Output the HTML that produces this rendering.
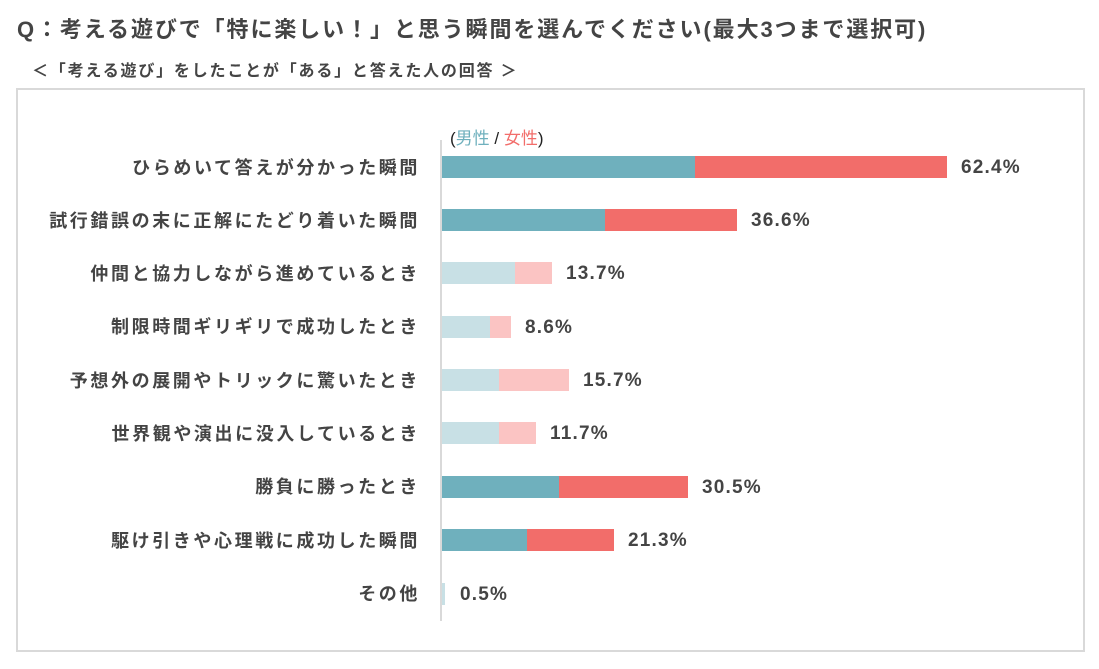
<!DOCTYPE html>
<html><head><meta charset="utf-8"><style>
body{margin:0;width:1099px;height:669px;background:#fff;font-family:"Liberation Sans","Noto Sans CJK JP",sans-serif;color:#444;position:relative;overflow:hidden}
.t{position:absolute;left:17px;top:12px;font-size:22px;font-weight:bold;white-space:nowrap;letter-spacing:1.9px}
.s{position:absolute;left:32px;top:57px;font-size:16px;font-weight:bold;white-space:nowrap;letter-spacing:1.8px}
.box{position:absolute;left:16px;top:88px;width:1065px;height:560px;border:2px solid #d9d9d9}
.ax{position:absolute;left:440px;top:140px;width:2px;height:481px;background:#d9d9d9}
.lg{position:absolute;left:450px;top:124px;font-size:17px;color:#222}
.lb{position:absolute;right:679px;font-size:18px;font-weight:bold;white-space:nowrap;letter-spacing:2.6px;transform:translateY(-50%)}
.b{position:absolute;height:22px}
.v{position:absolute;font-size:19px;font-weight:bold;letter-spacing:1.2px;transform:translateY(-50%)}
</style></head><body>
<div class="t">Q：考える遊びで「特に楽しい！」と思う瞬間を選んでください(最大3つまで選択可)</div>
<div class="s">＜「考える遊び」をしたことが「ある」と答えた人の回答 ＞</div>
<div class="box"></div>
<div class="ax"></div>
<div class="lg">(<span style="color:#6fb0bd">男性</span> / <span style="color:#f26d6a">女性</span>)</div>
<div class="lb" style="top:167px">ひらめいて答えが分かった瞬間</div>
<div class="b" style="top:156px;left:442px;width:253px;background:#6fb0bd"></div><div class="b" style="top:156px;left:695px;width:252px;background:#f26d6a"></div><div class="v" style="top:168px;left:961px">62.4%</div>
<div class="lb" style="top:220px">試行錯誤の末に正解にたどり着いた瞬間</div>
<div class="b" style="top:209px;left:442px;width:163px;background:#6fb0bd"></div><div class="b" style="top:209px;left:605px;width:132px;background:#f26d6a"></div><div class="v" style="top:221px;left:751px">36.6%</div>
<div class="lb" style="top:273px">仲間と協力しながら進めているとき</div>
<div class="b" style="top:262px;left:442px;width:73px;background:#c8e0e5"></div><div class="b" style="top:262px;left:515px;width:37px;background:#fbc4c3"></div><div class="v" style="top:274px;left:566px">13.7%</div>
<div class="lb" style="top:326px">制限時間ギリギリで成功したとき</div>
<div class="b" style="top:316px;left:442px;width:48px;background:#c8e0e5"></div><div class="b" style="top:316px;left:490px;width:21px;background:#fbc4c3"></div><div class="v" style="top:328px;left:525px">8.6%</div>
<div class="lb" style="top:380px">予想外の展開やトリックに驚いたとき</div>
<div class="b" style="top:369px;left:442px;width:57px;background:#c8e0e5"></div><div class="b" style="top:369px;left:499px;width:70px;background:#fbc4c3"></div><div class="v" style="top:381px;left:583px">15.7%</div>
<div class="lb" style="top:433px">世界観や演出に没入しているとき</div>
<div class="b" style="top:422px;left:442px;width:57px;background:#c8e0e5"></div><div class="b" style="top:422px;left:499px;width:37px;background:#fbc4c3"></div><div class="v" style="top:434px;left:550px">11.7%</div>
<div class="lb" style="top:486px">勝負に勝ったとき</div>
<div class="b" style="top:476px;left:442px;width:117px;background:#6fb0bd"></div><div class="b" style="top:476px;left:559px;width:129px;background:#f26d6a"></div><div class="v" style="top:488px;left:702px">30.5%</div>
<div class="lb" style="top:540px">駆け引きや心理戦に成功した瞬間</div>
<div class="b" style="top:529px;left:442px;width:85px;background:#6fb0bd"></div><div class="b" style="top:529px;left:527px;width:87px;background:#f26d6a"></div><div class="v" style="top:541px;left:628px">21.3%</div>
<div class="lb" style="top:593px">その他</div>
<div class="b" style="top:583px;left:442px;width:3px;background:#c8e0e5"></div><div class="v" style="top:595px;left:460px">0.5%</div>
</body></html>
